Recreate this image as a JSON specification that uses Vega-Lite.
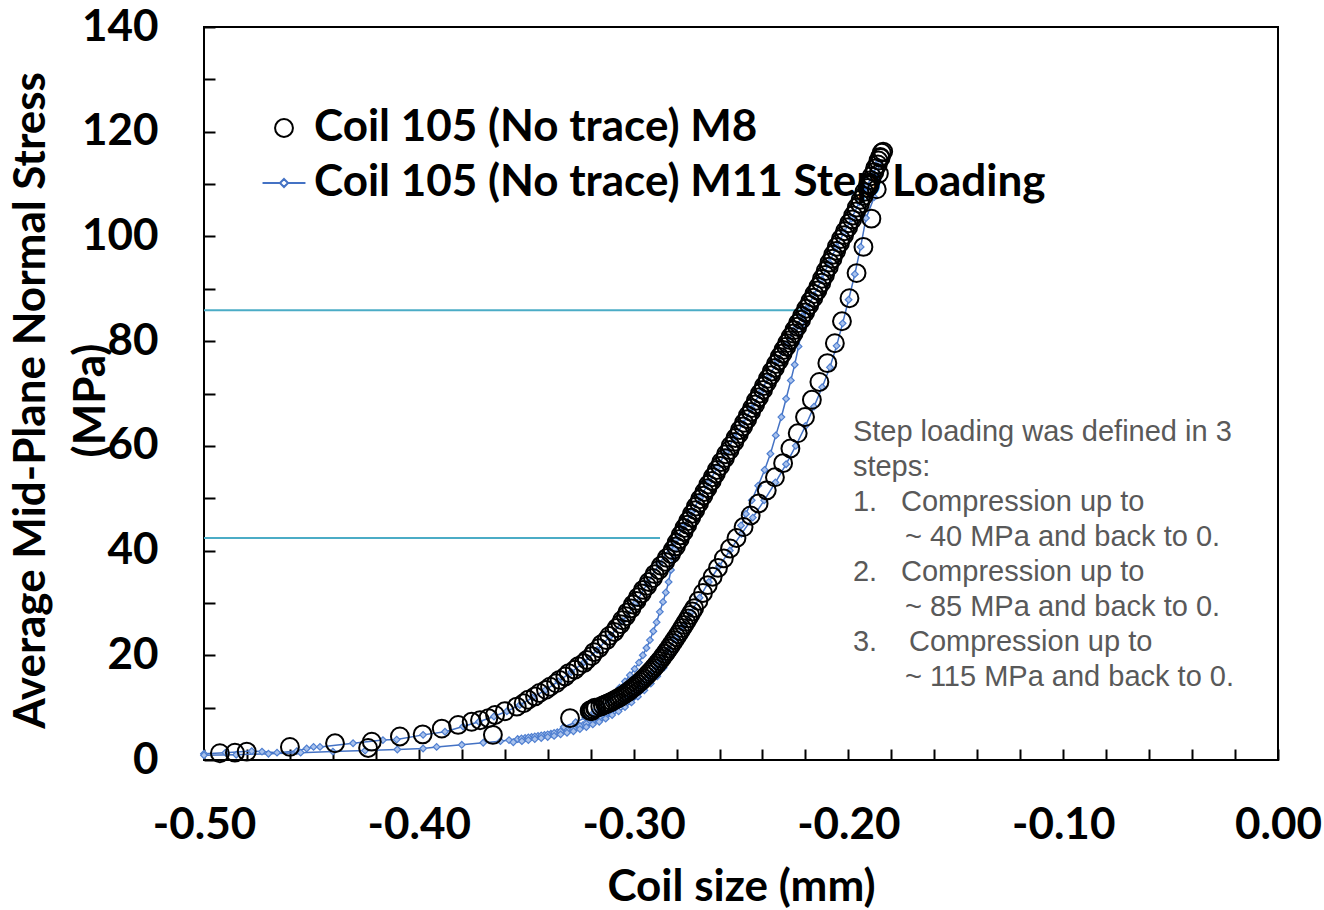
{
  "$schema": "https://vega.github.io/schema/vega-lite/v6.json",
  "width": 1074,
  "height": 733,
  "autosize": "none",
  "padding": {"left": 204, "top": 27, "right": 46, "bottom": 150},
  "background": "white",
  "config": {
    "font": "Lato",
    "view": {"stroke": "black", "strokeWidth": 2},
    "axis": {"grid": false}
  },
  "datasets": {
    "m8": [
      {"x": -0.4926, "y": 1.3}, {"x": -0.4856, "y": 1.4}, {"x": -0.4801, "y": 1.6}, {"x": -0.4600, "y": 2.5},
      {"x": -0.4390, "y": 3.2}, {"x": -0.4236, "y": 2.3}, {"x": -0.4219, "y": 3.5}, {"x": -0.4088, "y": 4.5},
      {"x": -0.3982, "y": 4.9}, {"x": -0.3893, "y": 6.0}, {"x": -0.3817, "y": 6.7}, {"x": -0.3754, "y": 7.3},
      {"x": -0.3715, "y": 7.6}, {"x": -0.3676, "y": 8.0}, {"x": -0.3645, "y": 8.6}, {"x": -0.3600, "y": 9.3},
      {"x": -0.3655, "y": 4.8}, {"x": -0.3296, "y": 8.0},
      {"x": -0.3544, "y": 10.2}, {"x": -0.3491, "y": 11.5}, {"x": -0.3438, "y": 12.8}, {"x": -0.3389, "y": 14.0},
      {"x": -0.3345, "y": 15.3}, {"x": -0.3302, "y": 16.6}, {"x": -0.3258, "y": 17.9}, {"x": -0.3218, "y": 19.1},
      {"x": -0.3184, "y": 20.6}, {"x": -0.3150, "y": 22.1}, {"x": -0.3113, "y": 23.7}, {"x": -0.3079, "y": 25.2},
      {"x": -0.3054, "y": 26.7}, {"x": -0.3029, "y": 28.2}, {"x": -0.3003, "y": 29.7}, {"x": -0.2980, "y": 31.1},
      {"x": -0.2956, "y": 32.5}, {"x": -0.2929, "y": 34.0}, {"x": -0.2902, "y": 35.5}, {"x": -0.2873, "y": 37.1},
      {"x": -0.2845, "y": 38.6}, {"x": -0.2818, "y": 40.1}, {"x": -0.2800, "y": 41.5}, {"x": -0.2782, "y": 42.9},
      {"x": -0.2764, "y": 44.3}, {"x": -0.2747, "y": 45.6}, {"x": -0.2728, "y": 47.0}, {"x": -0.2710, "y": 48.4},
      {"x": -0.2691, "y": 49.8}, {"x": -0.2671, "y": 51.2}, {"x": -0.2652, "y": 52.6}, {"x": -0.2632, "y": 54.0},
      {"x": -0.2613, "y": 55.4}, {"x": -0.2592, "y": 56.9}, {"x": -0.2570, "y": 58.4}, {"x": -0.2548, "y": 60.0},
      {"x": -0.2526, "y": 61.5}, {"x": -0.2505, "y": 63.0}, {"x": -0.2486, "y": 64.4}, {"x": -0.2468, "y": 65.8},
      {"x": -0.2449, "y": 67.2}, {"x": -0.2431, "y": 68.6}, {"x": -0.2412, "y": 70.0}, {"x": -0.2394, "y": 71.4},
      {"x": -0.2375, "y": 72.8}, {"x": -0.2357, "y": 74.2}, {"x": -0.2338, "y": 75.6}, {"x": -0.2320, "y": 77.0},
      {"x": -0.2303, "y": 78.3}, {"x": -0.2286, "y": 79.6}, {"x": -0.2270, "y": 80.8}, {"x": -0.2252, "y": 82.1},
      {"x": -0.2235, "y": 83.4}, {"x": -0.2216, "y": 84.8}, {"x": -0.2197, "y": 86.2}, {"x": -0.2178, "y": 87.6},
      {"x": -0.2159, "y": 89.0}, {"x": -0.2140, "y": 90.4}, {"x": -0.2123, "y": 91.9}, {"x": -0.2106, "y": 93.4},
      {"x": -0.2088, "y": 95.0}, {"x": -0.2071, "y": 96.5}, {"x": -0.2054, "y": 98.0}, {"x": -0.2035, "y": 99.5},
      {"x": -0.2016, "y": 101.0}, {"x": -0.1997, "y": 102.5}, {"x": -0.1978, "y": 104.0}, {"x": -0.1961, "y": 105.5},
      {"x": -0.1943, "y": 107.0}, {"x": -0.1926, "y": 108.5}, {"x": -0.1908, "y": 110.0}, {"x": -0.1892, "y": 111.5},
      {"x": -0.1876, "y": 113.0}, {"x": -0.1860, "y": 114.5}, {"x": -0.1845, "y": 116.0}, {"x": -0.1838, "y": 116.2},
      {"x": -0.1852, "y": 115.2},
      {"x": -0.3512, "y": 10.85}, {"x": -0.3459, "y": 12.15}, {"x": -0.3408, "y": 13.4}, {"x": -0.3361, "y": 14.65},
      {"x": -0.3318, "y": 15.95}, {"x": -0.3274, "y": 17.25}, {"x": -0.3232, "y": 18.5}, {"x": -0.3195, "y": 19.85},
      {"x": -0.3161, "y": 21.35}, {"x": -0.3126, "y": 22.9}, {"x": -0.3090, "y": 24.45}, {"x": -0.3061, "y": 25.95},
      {"x": -0.3036, "y": 27.45}, {"x": -0.3010, "y": 28.95}, {"x": -0.2986, "y": 30.4}, {"x": -0.2962, "y": 31.8},
      {"x": -0.2937, "y": 33.25}, {"x": -0.2910, "y": 34.75}, {"x": -0.2882, "y": 36.3}, {"x": -0.2853, "y": 37.85},
      {"x": -0.2826, "y": 39.35}, {"x": -0.2803, "y": 40.8}, {"x": -0.2785, "y": 42.2}, {"x": -0.2767, "y": 43.6},
      {"x": -0.2750, "y": 44.95}, {"x": -0.2732, "y": 46.3}, {"x": -0.2713, "y": 47.7}, {"x": -0.2695, "y": 49.1},
      {"x": -0.2675, "y": 50.5}, {"x": -0.2656, "y": 51.9}, {"x": -0.2636, "y": 53.3}, {"x": -0.2617, "y": 54.7},
      {"x": -0.2597, "y": 56.15}, {"x": -0.2575, "y": 57.65}, {"x": -0.2553, "y": 59.2}, {"x": -0.2531, "y": 60.75},
      {"x": -0.2510, "y": 62.25}, {"x": -0.2490, "y": 63.7}, {"x": -0.2471, "y": 65.1}, {"x": -0.2453, "y": 66.5},
      {"x": -0.2434, "y": 67.9}, {"x": -0.2416, "y": 69.3}, {"x": -0.2397, "y": 70.7}, {"x": -0.2379, "y": 72.1},
      {"x": -0.2360, "y": 73.5}, {"x": -0.2342, "y": 74.9}, {"x": -0.2323, "y": 76.3}, {"x": -0.2306, "y": 77.65},
      {"x": -0.2289, "y": 78.95}, {"x": -0.2272, "y": 80.2}, {"x": -0.2255, "y": 81.45}, {"x": -0.2238, "y": 82.75},
      {"x": -0.2220, "y": 84.1}, {"x": -0.2201, "y": 85.5}, {"x": -0.2182, "y": 86.9}, {"x": -0.2163, "y": 88.3},
      {"x": -0.2144, "y": 89.7}, {"x": -0.2126, "y": 91.15}, {"x": -0.2109, "y": 92.65}, {"x": -0.2091, "y": 94.2},
      {"x": -0.2074, "y": 95.75}, {"x": -0.2057, "y": 97.25}, {"x": -0.2039, "y": 98.75}, {"x": -0.2020, "y": 100.25},
      {"x": -0.2001, "y": 101.75}, {"x": -0.1982, "y": 103.25}, {"x": -0.1964, "y": 104.75}, {"x": -0.1946, "y": 106.25},
      {"x": -0.1929, "y": 107.75}, {"x": -0.1911, "y": 109.25}, {"x": -0.1895, "y": 110.75}, {"x": -0.1879, "y": 112.25},
      {"x": -0.1863, "y": 113.75},
      {"x": -0.1850, "y": 115.0}, {"x": -0.1858, "y": 112.0}, {"x": -0.1868, "y": 109.0}, {"x": -0.1893, "y": 103.4},
      {"x": -0.1930, "y": 98.0}, {"x": -0.1962, "y": 93.0}, {"x": -0.1995, "y": 88.2}, {"x": -0.2030, "y": 83.8},
      {"x": -0.2063, "y": 79.6}, {"x": -0.2098, "y": 75.8}, {"x": -0.2135, "y": 72.2}, {"x": -0.2170, "y": 68.8},
      {"x": -0.2202, "y": 65.5}, {"x": -0.2236, "y": 62.4}, {"x": -0.2270, "y": 59.5}, {"x": -0.2304, "y": 56.7},
      {"x": -0.2342, "y": 54.0}, {"x": -0.2380, "y": 51.5}, {"x": -0.2418, "y": 49.0}, {"x": -0.2455, "y": 46.7},
      {"x": -0.2488, "y": 44.5}, {"x": -0.2521, "y": 42.4}, {"x": -0.2551, "y": 40.4}, {"x": -0.2580, "y": 38.5},
      {"x": -0.2607, "y": 36.7}, {"x": -0.2632, "y": 35.0}, {"x": -0.2655, "y": 33.4}, {"x": -0.2677, "y": 31.9},
      {"x": -0.2698, "y": 30.4}, {"x": -0.2718, "y": 29.0}, {"x": -0.2737, "y": 27.7}, {"x": -0.2756, "y": 26.4},
      {"x": -0.2774, "y": 25.2}, {"x": -0.2792, "y": 24.0}, {"x": -0.2810, "y": 22.9}, {"x": -0.2828, "y": 21.8},
      {"x": -0.2845, "y": 20.8}, {"x": -0.2863, "y": 19.8}, {"x": -0.2880, "y": 18.9}, {"x": -0.2898, "y": 18.0},
      {"x": -0.2915, "y": 17.2}, {"x": -0.2933, "y": 16.4}, {"x": -0.2952, "y": 15.6}, {"x": -0.2970, "y": 14.9},
      {"x": -0.2990, "y": 14.2}, {"x": -0.3008, "y": 13.6}, {"x": -0.3027, "y": 13.0}, {"x": -0.3048, "y": 12.4},
      {"x": -0.3068, "y": 11.9}, {"x": -0.3090, "y": 11.4}, {"x": -0.3110, "y": 11.0}, {"x": -0.3132, "y": 10.6},
      {"x": -0.3155, "y": 10.2}, {"x": -0.3175, "y": 9.9}, {"x": -0.3190, "y": 9.7}, {"x": -0.3200, "y": 9.5},
      {"x": -0.3205, "y": 9.4}, {"x": -0.3180, "y": 10.0}, {"x": -0.3195, "y": 9.3},
      {"x": -0.3143, "y": 10.4}, {"x": -0.3121, "y": 10.8}, {"x": -0.3100, "y": 11.2}, {"x": -0.3079, "y": 11.65},
      {"x": -0.3058, "y": 12.15}, {"x": -0.3037, "y": 12.7}, {"x": -0.3017, "y": 13.3}, {"x": -0.2999, "y": 13.9},
      {"x": -0.2980, "y": 14.55}, {"x": -0.2961, "y": 15.25}, {"x": -0.2942, "y": 16.0}, {"x": -0.2924, "y": 16.8},
      {"x": -0.2906, "y": 17.6}, {"x": -0.2889, "y": 18.45}, {"x": -0.2871, "y": 19.35}, {"x": -0.2854, "y": 20.3},
      {"x": -0.2836, "y": 21.3}, {"x": -0.2819, "y": 22.35}, {"x": -0.2801, "y": 23.45}, {"x": -0.2783, "y": 24.6},
      {"x": -0.2765, "y": 25.8}, {"x": -0.2746, "y": 27.05}, {"x": -0.2727, "y": 28.35}
    ],
    "m11": [
      {"seg": "v", "i": 0, "x": -0.5000, "y": 1.2}, {"seg": "v", "i": 1, "x": -0.4900, "y": 1.4},
      {"seg": "v", "i": 2, "x": -0.4778, "y": 1.7}, {"seg": "v", "i": 3, "x": -0.4730, "y": 1.6},
      {"seg": "v", "i": 4, "x": -0.4660, "y": 1.4}, {"seg": "v", "i": 5, "x": -0.4568, "y": 1.7},
      {"seg": "v", "i": 6, "x": -0.4522, "y": 2.2}, {"seg": "v", "i": 7, "x": -0.4490, "y": 2.5},
      {"seg": "v", "i": 8, "x": -0.4460, "y": 2.5}, {"seg": "v", "i": 9, "x": -0.4306, "y": 3.2},
      {"seg": "v", "i": 10, "x": -0.4167, "y": 3.8}, {"seg": "v", "i": 11, "x": -0.4103, "y": 3.9},
      {"seg": "v", "i": 12, "x": -0.3980, "y": 4.8}, {"seg": "v", "i": 13, "x": -0.3878, "y": 5.4},
      {"seg": "v", "i": 14, "x": -0.3794, "y": 6.4}, {"seg": "v", "i": 15, "x": -0.3720, "y": 7.3},
      {"seg": "v", "i": 16, "x": -0.3650, "y": 8.3}, {"seg": "v", "i": 17, "x": -0.3590, "y": 9.3},
      {"seg": "v", "i": 18, "x": -0.3530, "y": 10.5}, {"seg": "v", "i": 19, "x": -0.3470, "y": 11.9},
      {"seg": "v", "i": 20, "x": -0.3410, "y": 13.4}, {"seg": "v", "i": 21, "x": -0.3350, "y": 15.0},
      {"seg": "v", "i": 22, "x": -0.3290, "y": 16.8}, {"seg": "v", "i": 23, "x": -0.3230, "y": 18.7},
      {"seg": "v", "i": 24, "x": -0.3170, "y": 21.0}, {"seg": "v", "i": 25, "x": -0.3110, "y": 23.6},
      {"seg": "v", "i": 26, "x": -0.3050, "y": 26.5}, {"seg": "v", "i": 27, "x": -0.2990, "y": 30.0},
      {"seg": "v", "i": 28, "x": -0.2935, "y": 33.8}, {"seg": "v", "i": 29, "x": -0.2880, "y": 37.5},
      {"seg": "v", "i": 30, "x": -0.2830, "y": 40.6}, {"seg": "v", "i": 31, "x": -0.2805, "y": 42.0},
      {"seg": "v", "i": 32, "x": -0.2770, "y": 44.5}, {"seg": "v", "i": 33, "x": -0.2730, "y": 47.3},
      {"seg": "v", "i": 34, "x": -0.2690, "y": 50.1}, {"seg": "v", "i": 35, "x": -0.2650, "y": 53.0},
      {"seg": "v", "i": 36, "x": -0.2610, "y": 55.9}, {"seg": "v", "i": 37, "x": -0.2570, "y": 58.8},
      {"seg": "v", "i": 38, "x": -0.2530, "y": 61.6}, {"seg": "v", "i": 39, "x": -0.2490, "y": 64.3},
      {"seg": "v", "i": 40, "x": -0.2450, "y": 67.2}, {"seg": "v", "i": 41, "x": -0.2410, "y": 70.2},
      {"seg": "v", "i": 42, "x": -0.2370, "y": 73.2}, {"seg": "v", "i": 43, "x": -0.2330, "y": 76.2},
      {"seg": "v", "i": 44, "x": -0.2290, "y": 79.3}, {"seg": "v", "i": 45, "x": -0.2250, "y": 82.3},
      {"seg": "v", "i": 46, "x": -0.2215, "y": 84.8}, {"seg": "v", "i": 47, "x": -0.2195, "y": 86.2},
      {"seg": "v", "i": 48, "x": -0.2160, "y": 88.8}, {"seg": "v", "i": 49, "x": -0.2125, "y": 91.8},
      {"seg": "v", "i": 50, "x": -0.2090, "y": 95.0}, {"seg": "v", "i": 51, "x": -0.2055, "y": 98.0},
      {"seg": "v", "i": 52, "x": -0.2020, "y": 100.8}, {"seg": "v", "i": 53, "x": -0.1985, "y": 103.4},
      {"seg": "v", "i": 54, "x": -0.1950, "y": 106.5}, {"seg": "v", "i": 55, "x": -0.1915, "y": 109.5},
      {"seg": "v", "i": 56, "x": -0.1885, "y": 112.0}, {"seg": "v", "i": 57, "x": -0.1858, "y": 114.2},
      {"seg": "u", "i": 0, "x": -0.1858, "y": 114.2}, {"seg": "u", "i": 1, "x": -0.1862, "y": 111.0},
      {"seg": "u", "i": 2, "x": -0.1880, "y": 107.5}, {"seg": "u", "i": 3, "x": -0.1918, "y": 103.5},
      {"seg": "u", "i": 4, "x": -0.1943, "y": 98.0}, {"seg": "u", "i": 5, "x": -0.1970, "y": 92.8},
      {"seg": "u", "i": 6, "x": -0.1999, "y": 87.9}, {"seg": "u", "i": 7, "x": -0.2027, "y": 83.4},
      {"seg": "u", "i": 8, "x": -0.2055, "y": 79.1}, {"seg": "u", "i": 9, "x": -0.2086, "y": 75.0},
      {"seg": "u", "i": 10, "x": -0.2122, "y": 71.2}, {"seg": "u", "i": 11, "x": -0.2160, "y": 67.5},
      {"seg": "u", "i": 12, "x": -0.2200, "y": 63.8}, {"seg": "u", "i": 13, "x": -0.2245, "y": 60.0},
      {"seg": "u", "i": 14, "x": -0.2290, "y": 56.5}, {"seg": "u", "i": 15, "x": -0.2340, "y": 53.0},
      {"seg": "u", "i": 16, "x": -0.2392, "y": 49.6}, {"seg": "u", "i": 17, "x": -0.2445, "y": 46.3},
      {"seg": "u", "i": 18, "x": -0.2498, "y": 43.2}, {"seg": "u", "i": 19, "x": -0.2552, "y": 40.0},
      {"seg": "u", "i": 20, "x": -0.2602, "y": 37.0}, {"seg": "u", "i": 21, "x": -0.2650, "y": 34.0},
      {"seg": "u", "i": 22, "x": -0.2693, "y": 31.0}, {"seg": "u", "i": 23, "x": -0.2733, "y": 28.2},
      {"seg": "u", "i": 24, "x": -0.2770, "y": 25.6}, {"seg": "u", "i": 25, "x": -0.2805, "y": 23.2},
      {"seg": "u", "i": 26, "x": -0.2840, "y": 21.0}, {"seg": "u", "i": 27, "x": -0.2872, "y": 19.0},
      {"seg": "u", "i": 28, "x": -0.2905, "y": 17.2}, {"seg": "u", "i": 29, "x": -0.2935, "y": 15.6},
      {"seg": "u", "i": 30, "x": -0.2965, "y": 14.2}, {"seg": "u", "i": 31, "x": -0.2995, "y": 12.9},
      {"seg": "u", "i": 32, "x": -0.3025, "y": 11.8}, {"seg": "u", "i": 33, "x": -0.3055, "y": 10.8},
      {"seg": "u", "i": 34, "x": -0.3085, "y": 9.9}, {"seg": "u", "i": 35, "x": -0.3115, "y": 9.1},
      {"seg": "u", "i": 36, "x": -0.3145, "y": 8.4}, {"seg": "u", "i": 37, "x": -0.3175, "y": 7.8},
      {"seg": "u", "i": 38, "x": -0.3205, "y": 7.2}, {"seg": "u", "i": 39, "x": -0.3235, "y": 6.7},
      {"seg": "u", "i": 40, "x": -0.3265, "y": 6.3}, {"seg": "u", "i": 41, "x": -0.3295, "y": 5.9},
      {"seg": "u", "i": 42, "x": -0.3325, "y": 5.6}, {"seg": "u", "i": 43, "x": -0.3355, "y": 5.3},
      {"seg": "u", "i": 44, "x": -0.3385, "y": 5.0}, {"seg": "u", "i": 45, "x": -0.3415, "y": 4.8},
      {"seg": "u", "i": 46, "x": -0.3445, "y": 4.6}, {"seg": "u", "i": 47, "x": -0.3475, "y": 4.4},
      {"seg": "u", "i": 48, "x": -0.3505, "y": 4.2}, {"seg": "u", "i": 49, "x": -0.3540, "y": 4.0},
      {"seg": "u", "i": 50, "x": -0.3580, "y": 3.8}, {"seg": "u", "i": 51, "x": -0.3620, "y": 3.6},
      {"seg": "u", "i": 52, "x": -0.3700, "y": 3.3}, {"seg": "u", "i": 53, "x": -0.3800, "y": 2.9},
      {"seg": "u", "i": 54, "x": -0.3917, "y": 2.5}, {"seg": "u", "i": 55, "x": -0.3980, "y": 2.2},
      {"seg": "u", "i": 56, "x": -0.4100, "y": 2.0}, {"seg": "u", "i": 57, "x": -0.4250, "y": 1.8},
      {"seg": "u", "i": 58, "x": -0.4400, "y": 1.6}, {"seg": "u", "i": 59, "x": -0.4550, "y": 1.4},
      {"seg": "u", "i": 60, "x": -0.4700, "y": 1.2}, {"seg": "u", "i": 61, "x": -0.4850, "y": 1.0},
      {"seg": "u", "i": 62, "x": -0.5000, "y": 0.9},
      {"seg": "u", "i": 27.5, "x": -0.2888, "y": 18.1}, {"seg": "u", "i": 28.5, "x": -0.2920, "y": 16.4},
      {"seg": "u", "i": 29.5, "x": -0.2950, "y": 14.9}, {"seg": "u", "i": 30.5, "x": -0.2980, "y": 13.55},
      {"seg": "u", "i": 31.5, "x": -0.3010, "y": 12.35}, {"seg": "u", "i": 32.5, "x": -0.3040, "y": 11.3},
      {"seg": "u", "i": 33.5, "x": -0.3070, "y": 10.35}, {"seg": "u", "i": 34.5, "x": -0.3100, "y": 9.5},
      {"seg": "u", "i": 35.5, "x": -0.3130, "y": 8.75}, {"seg": "u", "i": 36.5, "x": -0.3160, "y": 8.1},
      {"seg": "u", "i": 37.5, "x": -0.3190, "y": 7.5}, {"seg": "u", "i": 38.5, "x": -0.3220, "y": 6.95},
      {"seg": "u", "i": 39.5, "x": -0.3250, "y": 6.5}, {"seg": "u", "i": 40.5, "x": -0.3280, "y": 6.1},
      {"seg": "u", "i": 41.5, "x": -0.3310, "y": 5.75}, {"seg": "u", "i": 42.5, "x": -0.3340, "y": 5.45},
      {"seg": "u", "i": 43.5, "x": -0.3370, "y": 5.15}, {"seg": "u", "i": 44.5, "x": -0.3400, "y": 4.9},
      {"seg": "u", "i": 45.5, "x": -0.3430, "y": 4.7}, {"seg": "u", "i": 46.5, "x": -0.3460, "y": 4.5},
      {"seg": "u", "i": 47.5, "x": -0.3490, "y": 4.3}, {"seg": "u", "i": 48.5, "x": -0.3522, "y": 4.1},
      {"seg": "e", "i": 0, "x": -0.2860, "y": 17.6}, {"seg": "e", "i": 1, "x": -0.2890, "y": 16.0},
      {"seg": "e", "i": 2, "x": -0.2920, "y": 14.6}, {"seg": "e", "i": 3, "x": -0.2950, "y": 13.3},
      {"seg": "e", "i": 4, "x": -0.2980, "y": 12.1}, {"seg": "e", "i": 5, "x": -0.3010, "y": 11.0},
      {"seg": "e", "i": 6, "x": -0.3040, "y": 10.1}, {"seg": "e", "i": 7, "x": -0.3070, "y": 9.3},
      {"seg": "e", "i": 8, "x": -0.3100, "y": 8.6}, {"seg": "e", "i": 9, "x": -0.3130, "y": 7.9},
      {"seg": "e", "i": 10, "x": -0.3160, "y": 7.3}, {"seg": "e", "i": 11, "x": -0.3190, "y": 6.8},
      {"seg": "e", "i": 12, "x": -0.3220, "y": 6.3}, {"seg": "e", "i": 13, "x": -0.3250, "y": 5.9},
      {"seg": "e", "i": 14, "x": -0.3280, "y": 5.5}, {"seg": "e", "i": 15, "x": -0.3310, "y": 5.2},
      {"seg": "e", "i": 16, "x": -0.3340, "y": 4.9}, {"seg": "e", "i": 17, "x": -0.3370, "y": 4.6},
      {"seg": "e", "i": 18, "x": -0.3400, "y": 4.4}, {"seg": "e", "i": 19, "x": -0.3430, "y": 4.2},
      {"seg": "e", "i": 20, "x": -0.3460, "y": 4.0}, {"seg": "e", "i": 21, "x": -0.3490, "y": 3.8},
      {"seg": "e", "i": 22, "x": -0.3520, "y": 3.6}, {"seg": "e", "i": 23, "x": -0.3560, "y": 3.4},
      {"seg": "c", "i": 0, "x": -0.2805, "y": 42.0}, {"seg": "c", "i": 1, "x": -0.2810, "y": 40.2},
      {"seg": "c", "i": 2, "x": -0.2816, "y": 38.4}, {"seg": "c", "i": 3, "x": -0.2826, "y": 36.3},
      {"seg": "c", "i": 4, "x": -0.2837, "y": 34.0}, {"seg": "c", "i": 5, "x": -0.2850, "y": 32.0},
      {"seg": "c", "i": 6, "x": -0.2863, "y": 30.2}, {"seg": "c", "i": 7, "x": -0.2878, "y": 28.3},
      {"seg": "c", "i": 8, "x": -0.2893, "y": 26.3}, {"seg": "c", "i": 9, "x": -0.2908, "y": 24.6},
      {"seg": "c", "i": 10, "x": -0.2924, "y": 22.9}, {"seg": "c", "i": 11, "x": -0.2940, "y": 21.4},
      {"seg": "c", "i": 12, "x": -0.2957, "y": 20.0}, {"seg": "c", "i": 13, "x": -0.2975, "y": 18.6},
      {"seg": "c", "i": 14, "x": -0.2995, "y": 17.4}, {"seg": "c", "i": 15, "x": -0.3017, "y": 16.2},
      {"seg": "c", "i": 16, "x": -0.3040, "y": 15.0}, {"seg": "c", "i": 17, "x": -0.3065, "y": 13.8},
      {"seg": "c", "i": 18, "x": -0.3090, "y": 12.6}, {"seg": "c", "i": 19, "x": -0.3118, "y": 11.4},
      {"seg": "c", "i": 20, "x": -0.3150, "y": 10.2}, {"seg": "c", "i": 21, "x": -0.3185, "y": 9.1},
      {"seg": "c", "i": 22, "x": -0.3225, "y": 8.1}, {"seg": "c", "i": 23, "x": -0.3270, "y": 7.2},
      {"seg": "c", "i": 24, "x": -0.3325, "y": 6.3},
      {"seg": "d", "i": 0, "x": -0.2195, "y": 86.2}, {"seg": "d", "i": 1, "x": -0.2215, "y": 82.5},
      {"seg": "d", "i": 2, "x": -0.2232, "y": 79.0}, {"seg": "d", "i": 3, "x": -0.2250, "y": 75.5},
      {"seg": "d", "i": 4, "x": -0.2268, "y": 72.5}, {"seg": "d", "i": 5, "x": -0.2290, "y": 69.0},
      {"seg": "d", "i": 6, "x": -0.2312, "y": 65.5}, {"seg": "d", "i": 7, "x": -0.2338, "y": 62.0},
      {"seg": "d", "i": 8, "x": -0.2363, "y": 58.5}, {"seg": "d", "i": 9, "x": -0.2390, "y": 55.4},
      {"seg": "d", "i": 10, "x": -0.2420, "y": 52.4}, {"seg": "d", "i": 11, "x": -0.2450, "y": 49.6},
      {"seg": "d", "i": 12, "x": -0.2477, "y": 47.0}, {"seg": "d", "i": 13, "x": -0.2500, "y": 44.8}
    ],
    "refs": [
      {"x": -0.5, "x2": -0.2217, "y": 85.9},
      {"x": -0.5, "x2": -0.2877, "y": 42.4}
    ],
    "note": [
      {"x": -0.1979, "y": 65.3, "t": "Step loading was defined in 3"},
      {"x": -0.1979, "y": 58.62, "t": "steps:"},
      {"x": -0.1979, "y": 51.93, "t": "1."},
      {"x": -0.1755, "y": 51.93, "t": "Compression up to"},
      {"x": -0.1737, "y": 45.25, "t": "~ 40 MPa and back to 0."},
      {"x": -0.1979, "y": 38.56, "t": "2."},
      {"x": -0.1755, "y": 38.56, "t": "Compression up to"},
      {"x": -0.1737, "y": 31.88, "t": "~ 85 MPa and back to 0."},
      {"x": -0.1979, "y": 25.19, "t": "3."},
      {"x": -0.1718, "y": 25.19, "t": "Compression up to"},
      {"x": -0.1737, "y": 18.51, "t": "~ 115 MPa and back to 0."}
    ]
  },
  "layer": [
    {
      "data": {"name": "refs"},
      "mark": {"type": "rule", "color": "#4BACC6", "strokeWidth": 2},
      "encoding": {
        "x": {
          "field": "x", "type": "quantitative",
          "scale": {"domain": [-0.5, 0], "nice": false, "zero": false},
          "axis": {
            "title": "Coil size (mm)",
            "values": [-0.5, -0.48, -0.46, -0.44, -0.42, -0.4, -0.38, -0.36, -0.34, -0.32, -0.3, -0.28, -0.26, -0.24, -0.22, -0.2, -0.18, -0.16, -0.14, -0.12, -0.1, -0.08, -0.06, -0.04, -0.02, 0],
            "labelExpr": "abs(datum.value*10 - round(datum.value*10)) < 0.001 ? replace(format(datum.value, '.2f'), '\u2212', '-') : ''",
            "domain": false,
            "ticks": true, "tickSize": -11, "tickWidth": 2, "tickColor": "black",
            "labelFont": "Lato", "labelFontSize": 44, "labelFontWeight": "bold", "labelColor": "black",
            "labelBaseline": "alphabetic", "labelPadding": 89, "labelFlush": false, "labelOverlap": false, "labelBound": false,
            "titleFont": "Lato", "titleFontSize": 44, "titleFontWeight": "bold", "titleColor": "black",
            "titleBaseline": "alphabetic", "titleX": 537, "titleY": 140, "titleAnchor": "middle"
          }
        },
        "x2": {"field": "x2"},
        "y": {
          "field": "y", "type": "quantitative",
          "scale": {"domain": [0, 140], "nice": false, "zero": false},
          "axis": {
            "title": ["Average Mid-Plane Normal Stress", "(MPa)"],
            "values": [0, 5, 10, 15, 20, 25, 30, 35, 40, 45, 50, 55, 60, 65, 70, 75, 80, 85, 90, 95, 100, 105, 110, 115, 120, 125, 130, 135, 140],
            "labelExpr": "datum.value % 20 === 0 ? datum.label : ''",
            "domain": false,
            "ticks": true, "tickSize": -11, "tickWidth": 2, "tickColor": "black",
            "labelFont": "Lato", "labelFontSize": 44, "labelFontWeight": "bold", "labelColor": "black",
            "labelBaseline": "middle", "labelPadding": 57, "labelFlush": false, "labelOverlap": false, "labelBound": false,
            "titleFont": "Lato", "titleFontSize": 44, "titleFontWeight": "bold", "titleColor": "black",
            "titleAngle": -90, "titleBaseline": "top", "titleAlign": "center", "titleLineHeight": 60,
            "titleX": -195, "titleY": 373
          }
        }
      }
    },
    {
      "data": {"name": "m11"},
      "mark": {"type": "line", "color": "#4472C4", "strokeWidth": 1.5},
      "encoding": {
        "x": {"field": "x", "type": "quantitative"},
        "y": {"field": "y", "type": "quantitative"},
        "detail": {"field": "seg"},
        "order": {"field": "i", "type": "quantitative"}
      }
    },
    {
      "data": {"name": "m11"},
      "mark": {"type": "point", "shape": "diamond", "size": 45, "filled": false, "fill": "#A9C2EC", "fillOpacity": 1, "stroke": "#4F7FD0", "strokeWidth": 1.2, "opacity": 1},
      "encoding": {
        "x": {"field": "x", "type": "quantitative"},
        "y": {"field": "y", "type": "quantitative"}
      }
    },
    {
      "data": {"name": "m8"},
      "mark": {"type": "point", "filled": false, "size": 320, "strokeWidth": 2, "opacity": 1},
      "encoding": {
        "x": {"field": "x", "type": "quantitative"},
        "y": {"field": "y", "type": "quantitative"},
        "shape": {
          "datum": "Coil 105 (No trace) M8", "type": "nominal",
          "scale": {
            "domain": ["Coil 105 (No trace) M8", "Coil 105 (No trace) M11 Step Loading"],
            "range": ["circle", "M-2.4,0H-0.45M0.45,0H2.4M0,-0.45L0.45,0L0,0.45L-0.45,0Z"]
          },
          "legend": {
            "title": null, "orient": "none", "legendX": 58, "legendY": 79,
            "labelFont": "Lato", "labelFontSize": 44, "labelFontWeight": "bold", "labelColor": "black",
            "labelLimit": 0, "labelOffset": 8, "rowPadding": 11, "padding": 0,
            "symbolSize": 320, "symbolStrokeWidth": 2
          }
        },
        "stroke": {
          "datum": "Coil 105 (No trace) M8", "type": "nominal",
          "scale": {
            "domain": ["Coil 105 (No trace) M8", "Coil 105 (No trace) M11 Step Loading"],
            "range": ["black", "#4472C4"]
          }
        }
      }
    },
    {
      "data": {"name": "note"},
      "mark": {
        "type": "text",
        "font": "Liberation Sans", "fontSize": 29, "fill": "#595959",
        "align": "left", "baseline": "top"
      },
      "encoding": {
        "x": {"field": "x", "type": "quantitative"},
        "y": {"field": "y", "type": "quantitative"},
        "text": {"field": "t"}
      }
    }
  ]
}
